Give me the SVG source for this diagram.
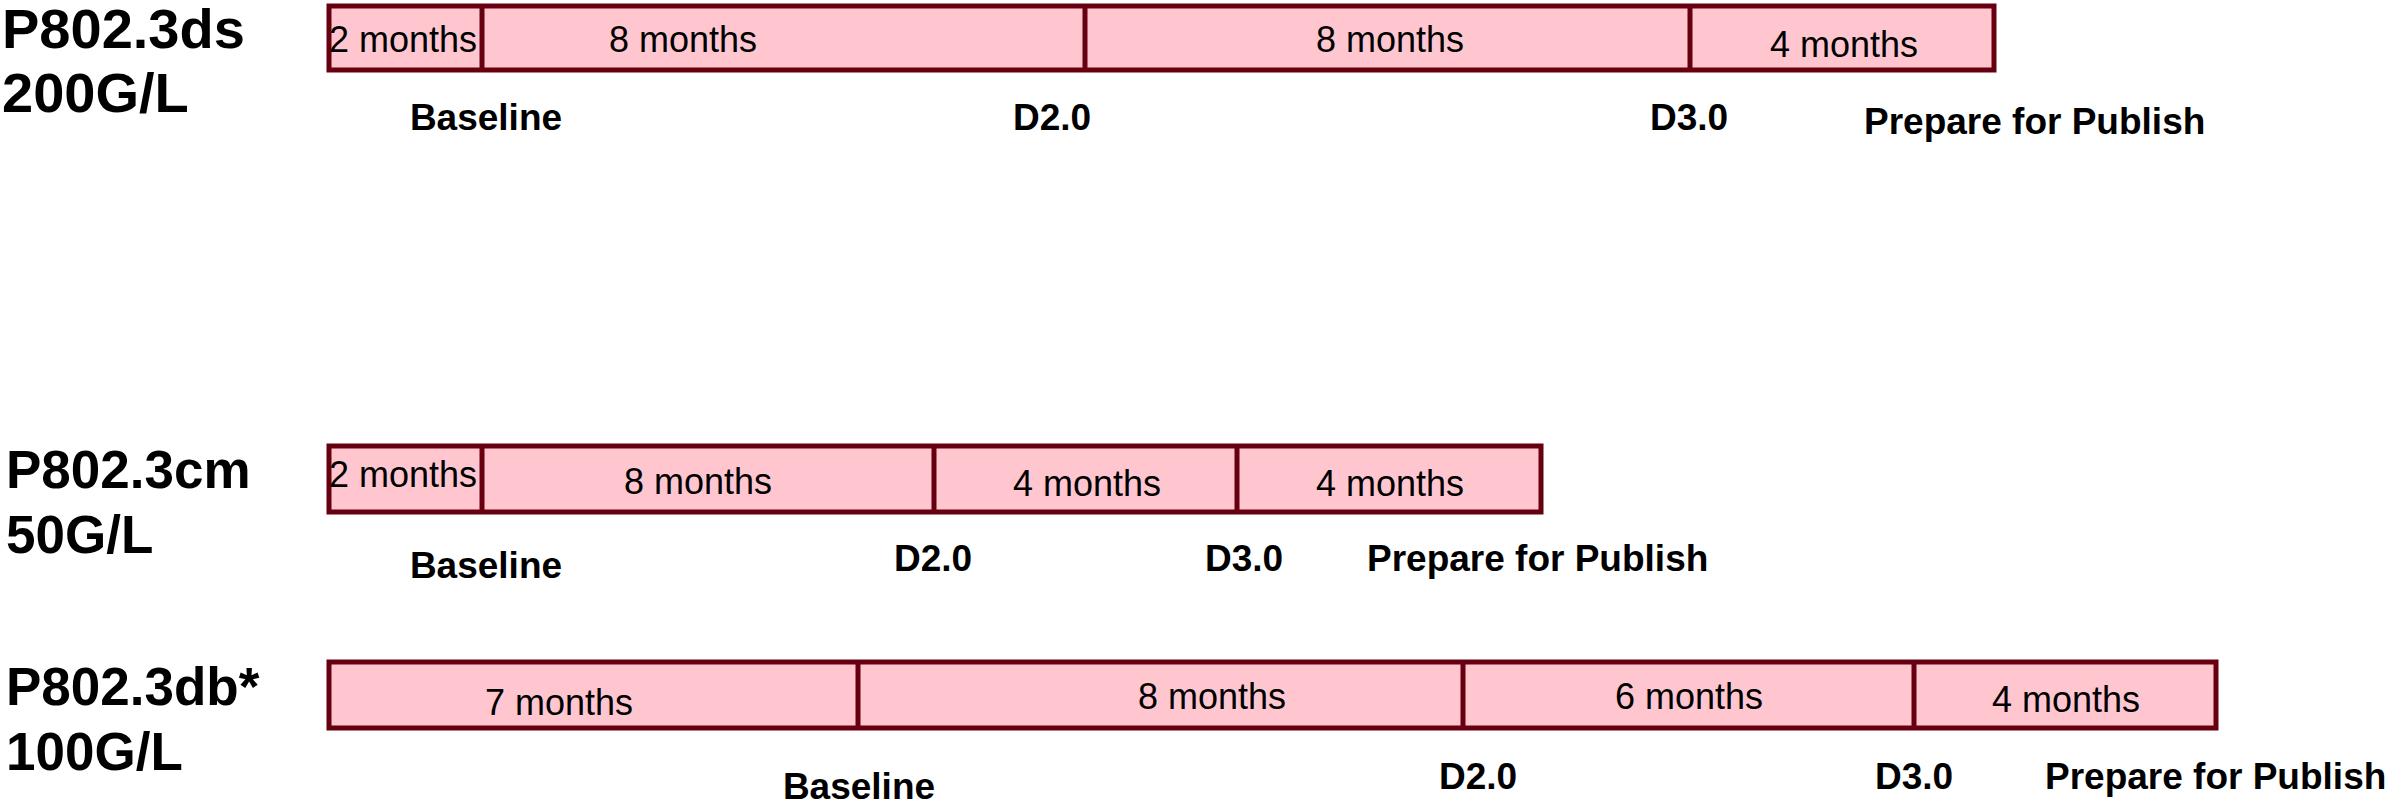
<svg xmlns="http://www.w3.org/2000/svg" width="2390" height="804" viewBox="0 0 2390 804">
<style>
.bar{fill:#FFC6D0;stroke:#660010;stroke-width:5}
.div{stroke:#660010;stroke-width:5}
.t{font-family:"Liberation Sans",Arial,sans-serif;font-size:36px;fill:#000}
.m{text-anchor:middle}
.b{font-family:"Liberation Sans",Arial,sans-serif;font-size:37px;font-weight:bold;fill:#000}
.h{font-family:"Liberation Sans",Arial,sans-serif;font-size:53px;font-weight:bold;fill:#000}
.h1{font-size:56px}
</style>
<rect width="2390" height="804" fill="#fff"/>
<g id="row-ds">
<text class="h h1" x="2" y="48">P802.3ds</text>
<text class="h h1" x="2" y="112">200G/L</text>
<rect class="bar" x="329" y="6" width="1665" height="64"/>
<line class="div" x1="482" y1="6" x2="482" y2="70"/>
<line class="div" x1="1085" y1="6" x2="1085" y2="70"/>
<line class="div" x1="1690" y1="6" x2="1690" y2="70"/>
<text class="t" x="329" y="52">2 months</text>
<text class="t m" x="683" y="52">8 months</text>
<text class="t m" x="1390" y="52">8 months</text>
<text class="t m" x="1844" y="57">4 months</text>
<text class="b m" x="486" y="130">Baseline</text>
<text class="b m" x="1052" y="130">D2.0</text>
<text class="b m" x="1689" y="130">D3.0</text>
<text class="b" x="1864" y="134">Prepare for Publish</text>
</g>
<g id="row-cm">
<text class="h" x="6" y="488">P802.3cm</text>
<text class="h" x="6" y="553">50G/L</text>
<rect class="bar" x="329" y="446" width="1212" height="66"/>
<line class="div" x1="482" y1="446" x2="482" y2="512"/>
<line class="div" x1="934" y1="446" x2="934" y2="512"/>
<line class="div" x1="1237" y1="446" x2="1237" y2="512"/>
<text class="t" x="329" y="487">2 months</text>
<text class="t m" x="698" y="494">8 months</text>
<text class="t m" x="1087" y="496">4 months</text>
<text class="t m" x="1390" y="496">4 months</text>
<text class="b m" x="486" y="578">Baseline</text>
<text class="b m" x="933" y="571">D2.0</text>
<text class="b m" x="1244" y="571">D3.0</text>
<text class="b" x="1367" y="571">Prepare for Publish</text>
</g>
<g id="row-db">
<text class="h" x="6" y="705">P802.3db*</text>
<text class="h" x="6" y="770">100G/L</text>
<rect class="bar" x="329" y="662" width="1887" height="66"/>
<line class="div" x1="858" y1="662" x2="858" y2="728"/>
<line class="div" x1="1463" y1="662" x2="1463" y2="728"/>
<line class="div" x1="1914" y1="662" x2="1914" y2="728"/>
<text class="t m" x="559" y="715">7 months</text>
<text class="t m" x="1212" y="709">8 months</text>
<text class="t m" x="1689" y="709">6 months</text>
<text class="t m" x="2066" y="712">4 months</text>
<text class="b m" x="859" y="799">Baseline</text>
<text class="b m" x="1478" y="789">D2.0</text>
<text class="b m" x="1914" y="789">D3.0</text>
<text class="b" x="2045" y="789">Prepare for Publish</text>
</g>
<g id="connectors"></g>
</svg>
